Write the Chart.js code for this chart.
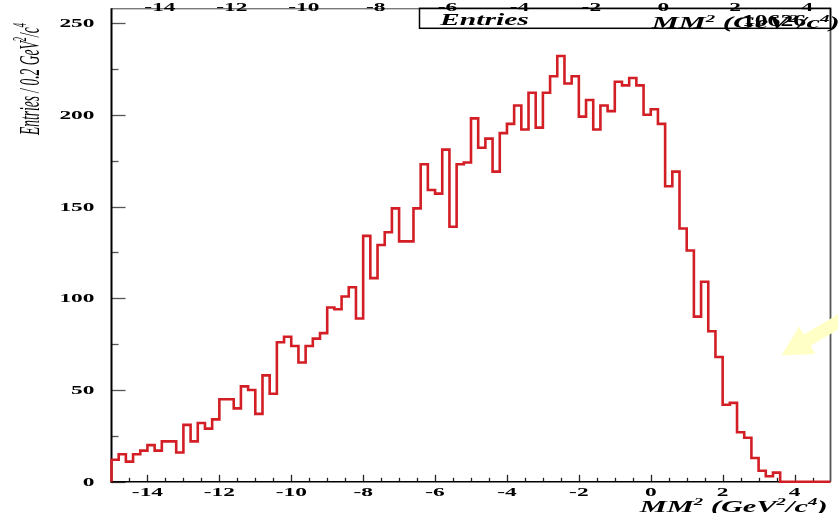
<!DOCTYPE html>
<html>
<head>
<meta charset="utf-8">
<script src="https://cdn.jsdelivr.net/npm/chart.js@4"></script>
<style>
  html, body { margin: 0; padding: 0; background: #fff; }
  #wrap { width: 838px; height: 513px; }
</style>
</head>
<body>
<div id="wrap"><canvas id="chart" width="838" height="513"></canvas></div>
<script>
// histogram: 100 bins of 0.2 GeV^2/c^4 from -15 to 5
const binStart = -15;
const binWidth = 0.2;
const binCounts = [
  12, 15, 11, 15, 17, 20, 17, 22, 22, 16,
  31, 22, 32, 29, 34, 45, 45, 40, 52, 50,
  37, 58, 48, 76, 79, 74, 65, 74, 78, 81,
  95, 94, 101, 106, 89, 134, 111, 129, 136, 149,
  131, 131, 149, 173, 159, 157, 181, 139, 173, 174,
  198, 182, 187, 169, 190, 195, 205, 192, 212, 193,
  212, 221, 232, 217, 221, 199, 208, 192, 205, 202,
  218, 216, 220, 216, 200, 203, 195, 161, 169, 138,
  126, 90, 109, 82, 68, 42, 43, 27, 24, 13,
  6, 3, 5, 0, 0, 0, 0, 0, 0, 0
];
const xTickLabels = [-14, -12, -10, -8, -6, -4, -2, 0, 2, 4];
const yTickLabels = [0, 50, 100, 150, 200, 250];
const entriesCount = '10626';

const xTitle = [['MM'], ['2', 1], [' (GeV'], ['2', 1], ['/c'], ['4', 1], [')']];
const yTitle = [['Entries / 0.2 GeV'], ['2', 1], ['/c'], ['4', 1]];

// step outline points (left edge of each bin + closing edge)
const points = [{ x: binStart, y: 0 }];
binCounts.forEach((c, i) => points.push({ x: binStart + i * binWidth, y: c }));
points.push({ x: binStart + binCounts.length * binWidth, y: binCounts[binCounts.length - 1] });

const SX = 1.95; // the original picture is stretched sideways

function stretchText(ctx, text, x, y, font, align, sx) {
  ctx.save();
  ctx.font = font;
  ctx.textAlign = align;
  ctx.textBaseline = 'alphabetic';
  ctx.translate(x, y);
  ctx.scale(sx || SX, 1);
  ctx.fillText(text, 0, 0);
  ctx.restore();
}

// runs of [text, isSuperscript]
function runsWidth(ctx, runs, size, style) {
  let w = 0;
  runs.forEach(r => {
    ctx.font = `${style} ${r[1] ? size * 0.62 : size}px "Liberation Serif"`;
    w += ctx.measureText(r[0]).width;
  });
  return w;
}
function drawRuns(ctx, runs, x0, y0, size, style) {
  let x = x0;
  runs.forEach(r => {
    ctx.font = `${style} ${r[1] ? size * 0.62 : size}px "Liberation Serif"`;
    ctx.fillText(r[0], x, r[1] ? y0 - size * 0.42 : y0);
    x += ctx.measureText(r[0]).width;
  });
}

const framePlugin = {
  id: 'frame',
  beforeDatasetsDraw(chart) {
    const { ctx, chartArea: a, scales: { x, y } } = chart;
    ctx.save();
    // y ticks (inside, to the right of the axis)
    ctx.strokeStyle = '#555';
    ctx.lineWidth = 1.3;
    for (let v = 0; v <= 250; v += 25) {
      const py = Math.round(y.getPixelForValue(v)) + 0.5;
      const len = v % 50 === 0 ? 14 : 7;
      ctx.beginPath(); ctx.moveTo(a.left, py); ctx.lineTo(a.left + len, py); ctx.stroke();
    }
    // x ticks (inside, upward)
    ctx.strokeStyle = '#222';
    for (let v = -14.5; v < 5; v += 0.5) {
      const px = Math.round(x.getPixelForValue(v)) + 0.5;
      const len = Math.abs(v % 2) < 1e-6 ? 7 : 4;
      ctx.beginPath(); ctx.moveTo(px, a.bottom); ctx.lineTo(px, a.bottom - len); ctx.stroke();
    }
    // top and right frame
    ctx.strokeStyle = '#444';
    ctx.lineWidth = 1;
    ctx.beginPath(); ctx.moveTo(a.left, a.top + 0.5); ctx.lineTo(a.right, a.top + 0.5); ctx.stroke();
    ctx.strokeStyle = '#555';
    ctx.lineWidth = 1.8;
    ctx.beginPath(); ctx.moveTo(a.right, a.top); ctx.lineTo(a.right, a.bottom); ctx.stroke();
    // left and bottom axes
    ctx.strokeStyle = '#000';
    ctx.lineWidth = 2;
    ctx.beginPath(); ctx.moveTo(a.left, a.top); ctx.lineTo(a.left, a.bottom + 1); ctx.stroke();
    ctx.lineWidth = 1.6;
    ctx.beginPath(); ctx.moveTo(a.left - 1, a.bottom); ctx.lineTo(a.right, a.bottom); ctx.stroke();
    ctx.restore();
  },
  afterDraw(chart) {
    const { ctx, chartArea: a, scales: { x, y } } = chart;
    ctx.save();
    ctx.fillStyle = '#000';
    const tickFont = 'bold 12px "Liberation Serif"';
    yTickLabels.forEach(v => {
      stretchText(ctx, String(v), a.left - 17, y.getPixelForValue(v) + 4, tickFont, 'right');
    });
    xTickLabels.forEach(v => {
      const px = x.getPixelForValue(v);
      stretchText(ctx, String(v), px, a.bottom + 14, tickFont, 'center');
      stretchText(ctx, String(v), px + 12.5, a.top + 3, tickFont, 'center');
    });

    // stats box
    ctx.strokeStyle = '#000';
    ctx.lineWidth = 1.5;
    ctx.strokeRect(419.5, a.top, a.right - 419.5, 20);
    stretchText(ctx, 'Entries', 440, a.top + 17, 'bold italic 16px "Liberation Serif"', 'left', 1.85);
    stretchText(ctx, entriesCount, 806, a.top + 18, 'bold 16px "Liberation Serif"', 'right', 1.6);

    // x titles (bottom and the shifted copy on top)
    const size = 16;
    [[a.right - 3, 512], [a.right + 9, a.top + 20]].forEach(([rx, by]) => {
      ctx.save();
      ctx.translate(rx, by);
      ctx.scale(1.9, 1);
      const w = runsWidth(ctx, xTitle, size, 'bold italic');
      drawRuns(ctx, xTitle, -w, 0, size, 'bold italic');
      ctx.restore();
    });

    // y title, rotated
    ctx.save();
    ctx.translate(39, 135);
    ctx.rotate(-Math.PI / 2);
    ctx.scale(1, 2.25);
    drawRuns(ctx, yTitle, 0, 0, 13.5, 'italic');
    ctx.restore();

    // pale arrow in the corner
    const tip = [781.5, 355.5], dir = [0.859, -0.512], nrm = [0.512, 0.859];
    const at = (t, s) => [tip[0] + t * dir[0] + s * nrm[0], tip[1] + t * dir[1] + s * nrm[1]];
    ctx.fillStyle = '#ffffc6';
    ctx.beginPath();
    [at(0, 0), at(30, -16), at(30, -6.5), at(90, -6.5), at(90, 6.5), at(30, 6.5), at(30, 16)]
      .forEach((p, i) => i ? ctx.lineTo(p[0], p[1]) : ctx.moveTo(p[0], p[1]));
    ctx.closePath();
    ctx.fill();
    ctx.restore();
  }
};

new Chart(document.getElementById('chart'), {
  type: 'line',
  data: {
    datasets: [{
      data: points,
      stepped: 'before',
      borderColor: '#d21e24',
      borderWidth: 2.6,
      pointRadius: 0,
      fill: false,
      clip: false
    }]
  },
  options: {
    responsive: false,
    animation: false,
    devicePixelRatio: 1,
    layout: { padding: { left: 111.5, right: 7.5, top: 8.3, bottom: 31.2 } },
    scales: {
      x: { type: 'linear', min: -15, max: 5, display: false },
      y: { min: 0, max: 258, display: false }
    },
    plugins: { legend: { display: false }, tooltip: { enabled: false } }
  },
  plugins: [framePlugin]
});
</script>
</body>
</html>
